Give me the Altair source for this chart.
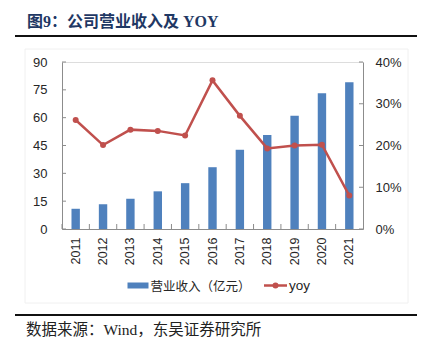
import altair as alt
import pandas as pd

years = ["2011", "2012", "2013", "2014", "2015", "2016", "2017", "2018", "2019", "2020", "2021"]
revenue = [10.9, 13.3, 16.3, 20.3, 24.7, 33.3, 42.7, 50.7, 61.0, 73.2, 79.1]
yoy = [0.261, 0.201, 0.238, 0.235, 0.224, 0.356, 0.271, 0.193, 0.200, 0.202, 0.080]
left_ticks = [0, 15, 30, 45, 60, 75, 90]
right_ticks = [0, 0.1, 0.2, 0.3, 0.4]

df = pd.DataFrame({"year": years, "revenue": revenue, "yoy": yoy})
lt = pd.DataFrame({"v": left_ticks})
rt = pd.DataFrame({"v": right_ticks})

W, H = 301, 167
AX = "#8c8c8c"
LAB = "#262626"
SANS = "Liberation Sans"
SERIF = '"Liberation Serif", "Noto Sans CJK SC"'
BLUE = "#4F81BD"
RED = "#C0504D"

xenc = alt.X("year:O", sort=years,
             scale=alt.Scale(paddingInner=0, paddingOuter=0),
             axis=alt.Axis(title=None, labelAngle=270, labelFont=SANS, labelFontSize=12.5,
                           labelColor=LAB, domainColor=AX, ticks=False, labelPadding=8,
                           labelBaseline="middle", labelAlign="right", labelOverlap=False))

yl_scale = alt.Scale(domain=[0, 90], nice=False)
yr_scale = alt.Scale(domain=[0, 0.4], nice=False)
yl_axis = alt.Axis(title=None, values=left_ticks, grid=False, ticks=False,
                   labelPadding=15, labelFont=SANS, labelFontSize=13, labelOverlap=False,
                   labelColor=LAB, domainColor=AX)
yr_axis = alt.Axis(title=None, values=right_ticks, format=".0%", grid=False, ticks=False,
                   orient="right", labelPadding=12, labelFont=SANS, labelFontSize=13,
                   labelOverlap=False, labelColor=LAB, domainColor=AX)

bars = alt.Chart(df).mark_bar(size=8.4, color=BLUE).encode(
    x=xenc,
    y=alt.Y("revenue:Q", scale=yl_scale, axis=yl_axis),
)
lticks = alt.Chart(lt).mark_rule(color=AX, strokeWidth=1).encode(
    x=alt.value(0), x2=alt.value(4), y=alt.Y("v:Q", scale=yl_scale, axis=yl_axis))
left = alt.layer(bars, lticks)

line = alt.Chart(df).mark_line(color=RED, strokeWidth=2.5,
                               point=alt.OverlayMarkDef(color=RED, size=36, filled=True, opacity=1)).encode(
    x=alt.X("year:O", sort=years),
    y=alt.Y("yoy:Q", scale=yr_scale, axis=yr_axis),
)
rticks = alt.Chart(rt).mark_rule(color=AX, strokeWidth=1).encode(
    x=alt.value(W - 4), x2=alt.value(W), y=alt.Y("v:Q", scale=yr_scale, axis=yr_axis))
right = alt.layer(line, rticks)

xticks = alt.Chart(df).mark_rule(color=AX, strokeWidth=1).encode(
    x=alt.X("year:O", sort=years, bandPosition=0),
    y=alt.value(H - 5), y2=alt.value(H))

deco = alt.Chart(pd.DataFrame({"a": [0]}))
frame = deco.mark_rect(fill=None, stroke="#f0f0f0", strokeWidth=1).encode(
    x=alt.value(-37), x2=alt.value(346), y=alt.value(-13), y2=alt.value(241))
title = deco.mark_text(text="图9：公司营业收入及 YOY", font=SERIF, fontSize=16, fontWeight="bold",
                       color="#1F3864", align="left", baseline="middle").encode(
    x=alt.value(-35), y=alt.value(-40))
topline = deco.mark_rule(color="#111111", strokeWidth=2).encode(
    x=alt.value(-47), x2=alt.value(355), y=alt.value(-26))
botline = deco.mark_rule(color="#111111", strokeWidth=2).encode(
    x=alt.value(-47), x2=alt.value(355), y=alt.value(253))
source = deco.mark_text(text="数据来源：Wind，东吴证券研究所", font=SERIF, fontSize=15.5,
                        color="#222222", align="left", baseline="middle").encode(
    x=alt.value(-36), y=alt.value(268))
leg_rect = deco.mark_rect(color=BLUE).encode(
    x=alt.value(65.5), x2=alt.value(86.5), y=alt.value(220.5), y2=alt.value(226.5))
leg_t1 = deco.mark_text(text="营业收入（亿元）", font='"Noto Sans CJK SC"', fontSize=12.5,
                        color=LAB, align="left", baseline="middle").encode(
    x=alt.value(88.5), y=alt.value(224.5))
leg_line = deco.mark_rule(color=RED, strokeWidth=2.5).encode(
    x=alt.value(202), x2=alt.value(225), y=alt.value(223.5))
leg_pt = deco.mark_point(color=RED, filled=True, size=36, opacity=1).encode(
    x=alt.value(213.5), y=alt.value(223.5))
leg_t2 = deco.mark_text(text="yoy", font=SANS, fontSize=13.5, color=LAB,
                        align="left", baseline="middle").encode(
    x=alt.value(227), y=alt.value(223.5))

main = alt.layer(left, right).resolve_scale(y="independent")

chart = alt.layer(frame, main, xticks, title, topline, botline, source,
                  leg_rect, leg_t1, leg_line, leg_pt, leg_t2).properties(
    width=W, height=H,
    autosize=alt.AutoSizeParams(type="none"),
    padding={"left": 62, "top": 62, "right": 61, "bottom": 125},
).configure_view(stroke=None).configure(background="white")

chart.save("out.html", embed_options={"renderer": "svg", "actions": False})
